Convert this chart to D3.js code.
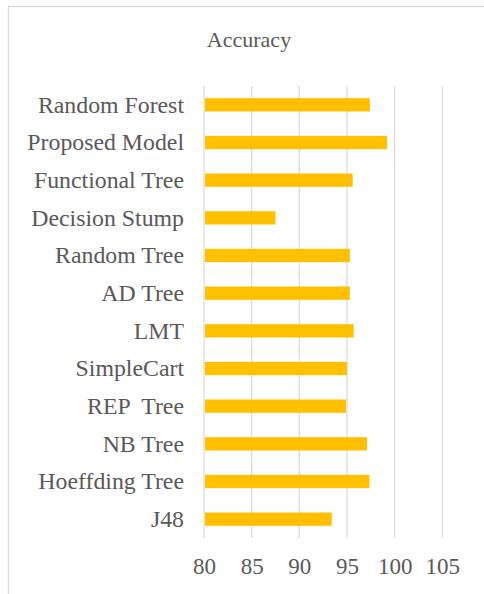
<!DOCTYPE html>
<html>
<head>
<meta charset="utf-8">
<script src="https://cdn.jsdelivr.net/npm/d3@7"></script>
<style>
  html, body { margin: 0; padding: 0; background: #fff; }
  svg { display: block; }
</style>
</head>
<body>
<div id="chart"></div>
<script>
// Classifier accuracy (%), listed top to bottom
const models = [
  "Random Forest", "Proposed Model", "Functional Tree", "Decision Stump",
  "Random Tree", "AD Tree", "LMT", "SimpleCart", "REP  Tree", "NB Tree",
  "Hoeffding Tree", "J48"
];
const accuracy = [97.4, 99.2, 95.6, 87.5, 95.3, 95.3, 95.7, 95.0, 94.9, 97.1, 97.35, 93.4];
const tickValues = [80, 85, 90, 95, 100, 105];
const chartTitle = "Accuracy";

const W = 484, H = 594;
const plot = { left: 204, right: 442.3, top: 86, bottom: 538 };
const serif = '"Liberation Serif", "Times New Roman", "DejaVu Serif", serif';
const textColor = "#595959";

const svg = d3.select("#chart").append("svg")
  .attr("width", W).attr("height", H);

// chart frame
svg.append("rect")
  .attr("x", 8.5).attr("y", 6.5)
  .attr("width", W + 20).attr("height", H + 20)
  .attr("fill", "#fff").attr("stroke", "#D9D9D9").attr("stroke-width", 1.3);

const x = d3.scaleLinear().domain([80, 105]).range([plot.left, plot.right]);
const y = d3.scaleBand().domain(models).range([plot.top, plot.bottom])
  .paddingInner(0.647).paddingOuter(0.3235);

// title
svg.append("text")
  .attr("x", 249).attr("y", 47)
  .attr("text-anchor", "middle")
  .style("font-family", serif)
  .style("font-size", "22px")
  .style("fill", textColor)
  .text(chartTitle);

// vertical gridlines
svg.append("g").selectAll("line").data(tickValues).join("line")
  .attr("x1", d => x(d)).attr("x2", d => x(d))
  .attr("y1", plot.top).attr("y2", plot.bottom)
  .attr("stroke", "#D9D9D9").attr("stroke-width", 1.2);

// bars
svg.append("g").selectAll("rect").data(models).join("rect")
  .attr("x", x(80) + 1)
  .attr("y", d => y(d))
  .attr("width", (d, i) => x(accuracy[i]) - x(80) - 1)
  .attr("height", y.bandwidth())
  .attr("fill", "#FFC000");

// category axis labels
const yAxis = d3.axisLeft(y).tickSize(0).tickPadding(0);
const gy = svg.append("g").attr("transform", `translate(${plot.left - 20},0)`).call(yAxis);
gy.select(".domain").remove();
gy.selectAll("text")
  .style("font-family", serif)
  .style("font-size", "23.8px")
  .style("fill", textColor)
  .style("white-space", "pre")
  .attr("dy", "0.33em");

// value axis labels
const xAxis = d3.axisBottom(x).tickValues(tickValues).tickSize(0).tickPadding(0);
const gx = svg.append("g").attr("transform", `translate(0,${plot.bottom})`).call(xAxis);
gx.select(".domain").remove();
gx.selectAll("text")
  .style("font-family", serif)
  .style("font-size", "23px")
  .style("fill", textColor)
  .attr("dy", null)
  .attr("y", 36);
</script>
</body>
</html>
